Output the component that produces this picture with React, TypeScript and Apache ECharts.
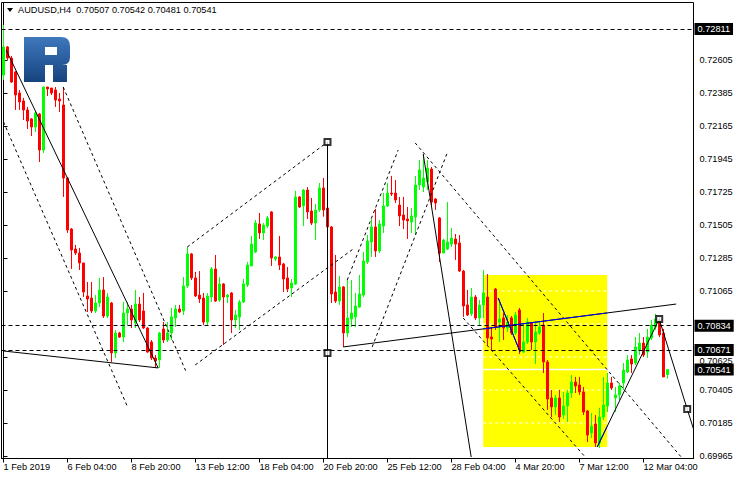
import React, { useEffect, useRef } from "react";
import * as echarts from "echarts";

const symbolName = "AUDUSD";
const timeframe = "H4";
const fontFamily = "Liberation Sans";
const fontSize = 9.2;

const opens = [
  0.72505, 0.72692, 0.72618, 0.72525, 0.72385, 0.72332, 0.72272, 0.72212, 0.72158, 0.72245,
  0.72005, 0.72425, 0.72418, 0.72405, 0.72345, 0.72305, 0.71818, 0.71478, 0.71345, 0.71318,
  0.71252, 0.71032, 0.71018, 0.70932, 0.70985, 0.71072, 0.70898, 0.70985, 0.70652, 0.70785,
  0.70758, 0.70918, 0.70945, 0.70852, 0.70978, 0.70932, 0.70818, 0.70725, 0.70618, 0.70605,
  0.70812, 0.70738, 0.70785, 0.70885, 0.70945, 0.70932, 0.71098, 0.71312, 0.71152, 0.71038,
  0.71018, 0.70858, 0.71025, 0.71212, 0.71005, 0.71112, 0.71025, 0.71052, 0.70872, 0.70892,
  0.70992, 0.71105, 0.71232, 0.71325, 0.71512, 0.71452, 0.71498, 0.71592, 0.71278, 0.71292,
  0.71245, 0.71152, 0.71085, 0.71112, 0.71692, 0.71632, 0.71738, 0.71598, 0.71518, 0.71605,
  0.71752, 0.71618, 0.71492, 0.71058, 0.70998, 0.71092, 0.70785, 0.70878, 0.70892, 0.70958,
  0.71038, 0.71258, 0.71392, 0.71492, 0.71332, 0.71498, 0.71632, 0.71718, 0.71718, 0.71638,
  0.71572, 0.71545, 0.71525, 0.71558, 0.71772, 0.71758, 0.71792, 0.71878, 0.71678, 0.71552,
  0.71318, 0.71345, 0.71378, 0.71412, 0.71385, 0.71198, 0.70972, 0.70912, 0.71025, 0.70885,
  0.70972, 0.71025, 0.70758, 0.71078, 0.70858, 0.70885, 0.70818, 0.70885, 0.70785, 0.70938,
  0.70658, 0.70725, 0.70852, 0.70725, 0.70785, 0.70838, 0.70592, 0.70352, 0.70292, 0.70352,
  0.70238, 0.70298, 0.70385, 0.70458, 0.70438, 0.70392, 0.70265, 0.70118, 0.70178, 0.70052,
  0.70225, 0.70298, 0.70452, 0.70352, 0.70372, 0.70452, 0.70525, 0.70612, 0.70585, 0.70672,
  0.70718, 0.70658, 0.70752, 0.70825, 0.70872, 0.70785, 0.70507,
];

const closes = [
  0.72692, 0.72618, 0.72458, 0.72372, 0.72325, 0.72272, 0.72198, 0.72158, 0.72252, 0.72005,
  0.72425, 0.72412, 0.72385, 0.72338, 0.72332, 0.71818, 0.71472, 0.71338, 0.71318, 0.71252,
  0.71058, 0.71012, 0.70932, 0.70985, 0.71072, 0.70898, 0.71025, 0.70652, 0.70785, 0.70758,
  0.70918, 0.70945, 0.70872, 0.70978, 0.70872, 0.70818, 0.70658, 0.70618, 0.70598, 0.70785,
  0.70738, 0.70785, 0.70892, 0.70945, 0.70925, 0.71098, 0.71312, 0.71152, 0.71032, 0.71012,
  0.70858, 0.71032, 0.71212, 0.70998, 0.71112, 0.71025, 0.71038, 0.70872, 0.70905, 0.70992,
  0.71112, 0.71238, 0.71378, 0.71518, 0.71452, 0.71505, 0.71552, 0.71285, 0.71292, 0.71238,
  0.71145, 0.71078, 0.71118, 0.71692, 0.71625, 0.71738, 0.71592, 0.71518, 0.71605, 0.71752,
  0.71605, 0.71492, 0.71045, 0.70998, 0.71092, 0.70785, 0.70885, 0.70918, 0.70965, 0.71045,
  0.71265, 0.71398, 0.71492, 0.71332, 0.71512, 0.71632, 0.71718, 0.71712, 0.71672, 0.71565,
  0.71538, 0.71532, 0.71565, 0.71772, 0.71872, 0.71818, 0.71885, 0.71658, 0.71652, 0.71318,
  0.71405, 0.71392, 0.71418, 0.71378, 0.71198, 0.70965, 0.70905, 0.71025, 0.70885, 0.70972,
  0.71052, 0.70752, 0.70745, 0.70825, 0.70878, 0.70818, 0.70858, 0.70785, 0.70905, 0.70672,
  0.70725, 0.70858, 0.70725, 0.70792, 0.70825, 0.70592, 0.70345, 0.70292, 0.70352, 0.70225,
  0.70298, 0.70385, 0.70458, 0.70432, 0.70392, 0.70258, 0.70105, 0.70165, 0.70052, 0.70225,
  0.70305, 0.70452, 0.70418, 0.70372, 0.70432, 0.70538, 0.70605, 0.70578, 0.70692, 0.70718,
  0.70638, 0.70758, 0.70838, 0.70878, 0.70772, 0.70492, 0.70541,
];

const lows = [
  0.72472, 0.72605, 0.72452, 0.72272, 0.72272, 0.72205, 0.72145, 0.72098, 0.72125, 0.71925,
  0.71985, 0.72365, 0.72372, 0.72292, 0.72258, 0.71692, 0.71452, 0.71212, 0.71305, 0.71205,
  0.71025, 0.70925, 0.70918, 0.70918, 0.70958, 0.70885, 0.70885, 0.70592, 0.70618, 0.70752,
  0.70725, 0.70838, 0.70818, 0.70818, 0.70858, 0.70812, 0.70652, 0.70605, 0.70552, 0.70552,
  0.70718, 0.70725, 0.70738, 0.70825, 0.70918, 0.70905, 0.71085, 0.71138, 0.71025, 0.70985,
  0.70838, 0.70832, 0.70992, 0.70992, 0.70992, 0.70705, 0.70985, 0.70785, 0.70818, 0.70805,
  0.70985, 0.71092, 0.71232, 0.71318, 0.71412, 0.71405, 0.71485, 0.71232, 0.71265, 0.71205,
  0.71058, 0.71058, 0.71025, 0.71105, 0.71618, 0.71498, 0.71545, 0.71505, 0.71405, 0.71592,
  0.71560, 0.71405, 0.70985, 0.70985, 0.70972, 0.70692, 0.70758, 0.70825, 0.70825, 0.70952,
  0.71025, 0.71245, 0.71292, 0.71292, 0.71318, 0.71452, 0.71625, 0.71698, 0.71652, 0.71498,
  0.71478, 0.71412, 0.71452, 0.71445, 0.71738, 0.71725, 0.71738, 0.71632, 0.71605, 0.71258,
  0.71318, 0.71338, 0.71358, 0.71272, 0.71192, 0.70892, 0.70898, 0.70898, 0.70872, 0.70838,
  0.70885, 0.70705, 0.70672, 0.70805, 0.70725, 0.70738, 0.70792, 0.70772, 0.70772, 0.70645,
  0.70652, 0.70712, 0.70672, 0.70578, 0.70772, 0.70518, 0.70272, 0.70225, 0.70238, 0.70192,
  0.70212, 0.70192, 0.70352, 0.70385, 0.70372, 0.70238, 0.70058, 0.70085, 0.70025, 0.70018,
  0.70205, 0.70258, 0.70405, 0.70258, 0.70338, 0.70405, 0.70518, 0.70518, 0.70572, 0.70638,
  0.70625, 0.70618, 0.70738, 0.70805, 0.70758, 0.70492, 0.70481,
];

const highs = [
  0.72838, 0.72698, 0.72632, 0.72532, 0.72405, 0.72352, 0.72292, 0.72218, 0.72265, 0.72252,
  0.72425, 0.72425, 0.72418, 0.72425, 0.72385, 0.72425, 0.71825, 0.71485, 0.71372, 0.71352,
  0.71252, 0.71125, 0.71125, 0.71038, 0.71152, 0.71158, 0.71052, 0.70992, 0.70805, 0.70792,
  0.70992, 0.70992, 0.70972, 0.71072, 0.71025, 0.71052, 0.70825, 0.70738, 0.70638, 0.70792,
  0.70858, 0.70858, 0.70952, 0.70972, 0.70972, 0.71158, 0.71358, 0.71318, 0.71192, 0.71198,
  0.71052, 0.71052, 0.71225, 0.71305, 0.71158, 0.71118, 0.71045, 0.71058, 0.70938, 0.71005,
  0.71145, 0.71258, 0.71432, 0.71538, 0.71585, 0.71518, 0.71565, 0.71598, 0.71298, 0.71432,
  0.71252, 0.71225, 0.71145, 0.71732, 0.71698, 0.71745, 0.71758, 0.71685, 0.71645, 0.71785,
  0.71818, 0.72058, 0.71498, 0.71305, 0.71165, 0.71098, 0.71138, 0.71138, 0.71052, 0.71172,
  0.71325, 0.71438, 0.71545, 0.71612, 0.71538, 0.71718, 0.71785, 0.71832, 0.71805, 0.71692,
  0.71692, 0.71625, 0.71618, 0.71832, 0.71938, 0.71978, 0.71938, 0.71892, 0.71685, 0.71558,
  0.71412, 0.71658, 0.71485, 0.71445, 0.71438, 0.71205, 0.71072, 0.71085, 0.71038, 0.71005,
  0.71205, 0.71178, 0.70825, 0.71085, 0.70992, 0.70918, 0.70905, 0.70898, 0.70925, 0.70952,
  0.70852, 0.70885, 0.70858, 0.70858, 0.70858, 0.70918, 0.70605, 0.70405, 0.70372, 0.70405,
  0.70392, 0.70405, 0.70505, 0.70492, 0.70492, 0.70425, 0.70272, 0.70252, 0.70238, 0.70285,
  0.70492, 0.70518, 0.70492, 0.70425, 0.70452, 0.70585, 0.70638, 0.70638, 0.70758, 0.70785,
  0.70758, 0.70812, 0.70872, 0.70912, 0.70892, 0.70812, 0.70542,
];

// time axis: H4 bars, weekends skipped, extra empty slots on the right
const slotCount = 173;
const firstBarUTC = Date.UTC(2019, 1, 1, 12);
const monthNames = ["Jan", "Feb", "Mar", "Apr", "May", "Jun", "Jul", "Aug", "Sep", "Oct", "Nov", "Dec"];
const xLabelEvery = 16;
const xTickLabels = [
  "1 Feb 2019", "6 Feb 04:00", "8 Feb 20:00", "13 Feb 12:00", "18 Feb 04:00", "20 Feb 20:00",
  "25 Feb 12:00", "28 Feb 04:00", "4 Mar 20:00", "7 Mar 12:00", "12 Mar 04:00",
];

// price axis
const yMin = 0.699483;
const yMax = 0.729883;
const yTickLabels = [
  0.69965, 0.70185, 0.70405, 0.70625, 0.71065, 0.71285, 0.71505, 0.71725, 0.71945, 0.72165,
  0.72385, 0.72605,
];
const yLabelPushedDown = 0.70625;
const levelPrices = [0.72811, 0.70834, 0.70671];
const bidPrice = 0.70541;

// yellow box (bar index, price) and the grid lines showing through it
const boxFrom = [119.925, 0.71172];
const boxTo = [150.925, 0.70025];
const boxGridPrices = [0.71065, 0.70845, 0.70625, 0.70405, 0.70185];

// drawn objects, as [bar index, price] points
const solidLines = [
  [[0.675, 0.72672], [38.675, 0.70552]],
  [[0, 0.70665], [38.675, 0.70552]],
  [[81, 0.72058], [81, 0.69948]],
  [[84.925, 0.70692], [168.175, 0.70978]],
  [[104.925, 0.71978], [116.925, 0.69958]],
  [[123.675, 0.71018], [129.175, 0.70658]],
  [[148.425, 0.70025], [163.925, 0.70878], [170.925, 0.70278], [172.5, 0.70145]],
];
const dashedLines = [
  [[0, 0.72192], [30.925, 0.70298]],
  [[14.925, 0.72425], [45.675, 0.70525]],
  [[47.925, 0.70572], [87.425, 0.71345]],
  [[45.925, 0.71358], [81, 0.72058]],
  [[85.925, 0.71138], [98.675, 0.72005]],
  [[92.175, 0.70692], [110.925, 0.71985]],
  [[102.925, 0.72052], [169.425, 0.69958]],
  [[114.925, 0.70885], [145.425, 0.69958]],
];
const squareMarkers = [
  [81, 0.72058],
  [81, 0.70652],
  [163.925, 0.70878],
  [170.925, 0.70278],
];

const logoPath =
  "M0 0 H37 Q46 0 46 9 V20 Q46 28 38 28 H43 V45 H29 V28 H21 V45 H0 Z M21 10 V18 H33 V10 Z";

function buildCategories(): string[] {
  const out: string[] = [];
  let t = firstBarUTC;
  while (out.length < slotCount) {
    const d = new Date(t);
    const wd = d.getUTCDay();
    if (wd !== 0 && wd !== 6) {
      const hh = String(d.getUTCHours()).padStart(2, "0");
      out.push(`${d.getUTCDate()} ${monthNames[d.getUTCMonth()]} ${hh}:00`);
    }
    t += 4 * 3600 * 1000;
  }
  return out;
}

function clipToBox(points: number[][]): number[][] | null {
  const x0 = boxFrom[0];
  const x1 = boxTo[0];
  const out: number[][] = [];
  for (let i = 0; i < points.length - 1; i++) {
    const [ax, ay] = points[i];
    const [bx, by] = points[i + 1];
    const lo = Math.max(Math.min(ax, bx), x0);
    const hi = Math.min(Math.max(ax, bx), x1);
    if (hi <= lo || ax === bx) continue;
    const at = (x: number) => ay + ((by - ay) * (x - ax)) / (bx - ax);
    out.push([lo, at(lo)], [hi, at(hi)]);
  }
  return out.length ? out : null;
}

let logoRegistered = false;

export default function App() {
  const ref = useRef<HTMLDivElement>(null);

  useEffect(() => {
    if (!ref.current) return;
    if (!logoRegistered) {
      echarts.graphic.registerShape("rlogo", echarts.graphic.extendPath(logoPath, {}) as any);
      logoRegistered = true;
    }
    const chart = echarts.init(ref.current, undefined, { renderer: "svg" });
    const categories = buildCategories();
    const candles = opens.map((o, i) => [o, closes[i], lows[i], highs[i]]);
    const last = opens.length - 1;
    const header = `${symbolName},${timeframe}  ${opens[last].toFixed(5)} ${highs[last].toFixed(5)} ${lows[last].toFixed(5)} ${closes[last].toFixed(5)}`;

    const lineSeries = (data: number[][], style: any, z: number) => ({
      type: "line",
      xAxisIndex: 1,
      yAxisIndex: 0,
      data,
      symbol: "none",
      silent: true,
      z,
      lineStyle: style,
    });

    const series: any[] = [];
    // yellow box
    series.push({
      type: "line",
      xAxisIndex: 1,
      yAxisIndex: 0,
      data: [[boxFrom[0], boxTo[1]]],
      symbol: "none",
      silent: true,
      lineStyle: { opacity: 0 },
      z: 1,
      markArea: {
        silent: true,
        z: 1,
        itemStyle: { color: "#ffff00" },
        data: [[{ coord: boxFrom }, { coord: boxTo }]],
      },
    });
    boxGridPrices.forEach((p) =>
      series.push(
        lineSeries([[boxFrom[0], p], [boxTo[0], p]], { color: "#ffffff", width: 1, type: [3, 3] }, 1.5)
      )
    );
    series.push(lineSeries([[boxFrom[0], bidPrice], [boxTo[0], bidPrice]], { color: "#ffffff", width: 1.5 }, 1.5));

    series.push({
      type: "candlestick",
      xAxisIndex: 0,
      yAxisIndex: 0,
      data: candles,
      barWidth: 2,
      z: 2,
      itemStyle: {
        color: "#00ff00",
        color0: "#ff0000",
        borderColor: "#00ff00",
        borderColor0: "#ff0000",
        borderColorDoji: "#00ff00",
        borderWidth: 1,
      },
    });

    // horizontal levels with their price boxes on the scale
    series.push({
      type: "line",
      xAxisIndex: 1,
      yAxisIndex: 0,
      data: [[0, bidPrice]],
      symbol: "none",
      silent: true,
      lineStyle: { opacity: 0 },
      z: 3,
      markLine: {
        silent: true,
        symbol: ["none", "none"],
        z: 5,
        precision: 5,
        lineStyle: { color: "#000", width: 1, type: [4, 3] },
        label: {
          show: true,
          position: "end",
          distance: 1,
          formatter: (p: any) => Number(p.value).toFixed(5),
          color: "#fff",
          backgroundColor: "#000",
          padding: [1, 3, 0, 3],
          lineHeight: 11,
          fontFamily,
          fontSize,
        },
        data: [
          ...levelPrices.map((v) => ({ yAxis: v })),
          { yAxis: bidPrice, lineStyle: { color: "rgba(0,0,0,0)" } },
        ],
      },
    });

    dashedLines.forEach((pts) => series.push(lineSeries(pts, { color: "#000", width: 1, type: [3, 3] }, 3)));
    solidLines.forEach((pts) => series.push(lineSeries(pts, { color: "#000", width: 1 }, 3)));
    solidLines.forEach((pts) => {
      const c = clipToBox(pts);
      if (c) series.push(lineSeries(c, { color: "#0000ff", width: 1 }, 3.2));
    });

    series.push({
      type: "scatter",
      xAxisIndex: 1,
      yAxisIndex: 0,
      data: squareMarkers,
      symbol: "emptyRect",
      symbolSize: 6,
      silent: true,
      z: 4,
      itemStyle: { color: "#000", borderColor: "#000", borderWidth: 1 },
    });

    chart.setOption({
      animation: false,
      backgroundColor: "#fff",
      textStyle: { fontFamily },
      grid: {
        left: 1.5,
        right: 46.5,
        top: 2.5,
        bottom: 21.5,
        show: true,
        borderColor: "#000",
        borderWidth: 1,
        backgroundColor: "transparent",
      },
      xAxis: [
        {
          type: "category",
          data: categories,
          boundaryGap: true,
          axisLine: { show: true, lineStyle: { color: "#000", width: 1 } },
          axisTick: {
            show: true,
            alignWithLabel: true,
            length: 4,
            interval: (i: number) => i % xLabelEvery === 0,
            lineStyle: { color: "#000" },
          },
          axisLabel: {
            show: true,
            interval: (i: number) => i % xLabelEvery === 0,
            formatter: (v: string, i: number) => xTickLabels[Math.round(i / xLabelEvery)] ?? v,
            align: "left",
            margin: 4,
            color: "#000",
            fontFamily,
            fontSize,
          },
          splitLine: { show: false },
        },
        {
          type: "value",
          min: -0.5,
          max: slotCount - 0.5,
          show: false,
        },
      ],
      yAxis: [
        {
          type: "value",
          position: "right",
          min: yMin,
          max: yMax,
          scale: true,
          axisLine: { show: true, lineStyle: { color: "#000", width: 1 } },
          axisTick: {
            show: true,
            length: 4,
            customValues: yTickLabels,
            lineStyle: { color: "#000" },
          },
          axisLabel: {
            show: true,
            customValues: yTickLabels,
            formatter: (v: number) => {
              const s = Number(v).toFixed(5);
              return Math.abs(v - yLabelPushedDown) < 1e-7 ? `{dn|${s}}` : s;
            },
            rich: {
              dn: { padding: [8, 0, 0, 0], color: "#000", fontFamily, fontSize },
            },
            margin: 6,
            color: "#000",
            fontFamily,
            fontSize,
          },
          splitLine: { show: false },
        },
      ],
      series,
      graphic: [
        {
          type: "polygon",
          silent: true,
          z: 10,
          shape: { points: [[7, 8], [13, 8], [10, 12]] },
          style: { fill: "#000" },
        },
        {
          type: "text",
          silent: true,
          z: 10,
          x: 18,
          y: 10,
          style: {
            text: header,
            fill: "#000",
            font: `${fontSize}px "${fontFamily}"`,
            verticalAlign: "middle",
          },
        },
        {
          type: "rlogo",
          silent: true,
          z: 10,
          x: 24,
          y: 37,
          scaleX: 1,
          scaleY: 1,
          style: {
            fill: new echarts.graphic.LinearGradient(0, 0, 0, 1, [
              { offset: 0, color: "#3f78bd" },
              { offset: 1, color: "#16437e" },
            ]),
          },
        },
      ],
    });

    return () => {
      chart.dispose();
    };
  }, []);

  return (
    <div
      ref={ref}
      style={{ position: "absolute", left: 0, top: 0, width: 740, height: 480, background: "#fff" }}
    />
  );
}
